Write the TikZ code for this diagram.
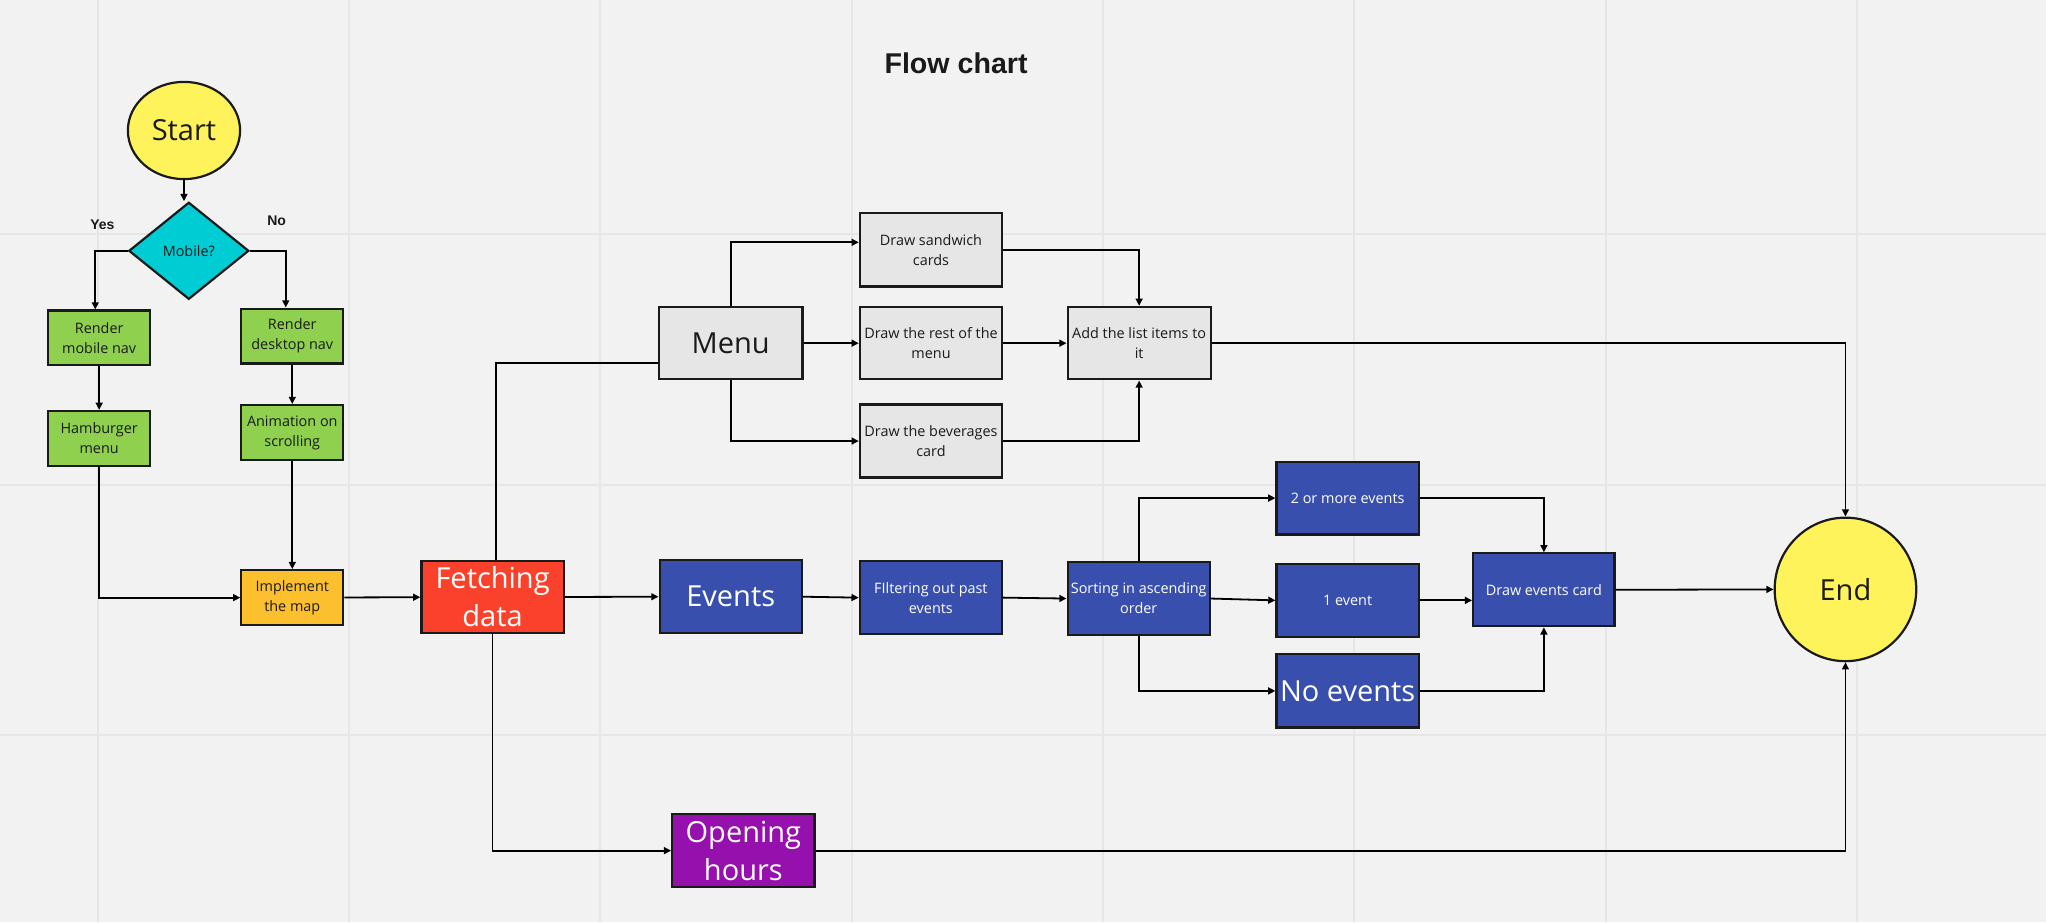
\documentclass[tikz,border=0pt]{standalone}
\usepackage{fontspec}
\setmainfont{Open Sans}
\newfontfamily\headfont{Liberation Sans}
\usetikzlibrary{arrows.meta,shapes.geometric,calc}
\definecolor{bg}{HTML}{F2F2F2}
\definecolor{gridc}{HTML}{E6E6E6}
\definecolor{yel}{HTML}{FFF35C}
\definecolor{cyn}{HTML}{00CDD3}
\definecolor{grn}{HTML}{8FD14F}
\definecolor{orng}{HTML}{FCC02E}
\definecolor{redc}{HTML}{F9412C}
\definecolor{blu}{HTML}{384FAD}
\definecolor{purp}{HTML}{9510AC}
\definecolor{gry}{HTML}{E6E6E6}
\definecolor{ink}{HTML}{1A1A1A}
\def\U{0.6524pt}
\tikzset{
  smalltxt/.style={font=\fontsize{7.2}{10}\selectfont},
  bigtxt/.style={font=\fontsize{14.5}{19}\selectfont},
  box/.style={rectangle, draw=ink, line width=1.1pt, inner sep=0pt, align=center,
    minimum width=109*\U, minimum height=56*\U, text=ink},
  gbox/.style={box, minimum width=78*\U, minimum height=42*\U, smalltxt},
  lbox/.style={box, fill=gry, smalltxt},
  bbox/.style={box, fill=blu, text=white, smalltxt},
  term/.style={ellipse, draw=ink, line width=1.1pt, fill=yel, inner sep=0pt, text=ink, bigtxt},
  conn/.style={draw=black, line width=0.9pt},
  arr/.style={conn, -{Triangle[length=3.6pt,width=3.4pt]}},
  lab/.style={font=\headfont\bfseries\fontsize{7}{8}\selectfont, text=ink, anchor=base},
}
\begin{document}
\begin{tikzpicture}[x=0.6524pt,y=-0.6524pt]
\fill[bg] (0,0) rectangle (1568,706.6);
\useasboundingbox (0,0) rectangle (1568,706.6);
\foreach \gx in {0,...,7} \draw[gridc,line width=1pt] ({74.9+192.6*\gx},0) -- ({74.9+192.6*\gx},706.6);
\foreach \gy in {179.4,371.4,563.5} \draw[gridc,line width=1pt] (0,\gy) -- (1568,\gy);

\node[font=\headfont\bfseries\fontsize{14.3}{16}\selectfont, text=ink, anchor=base] (title) at (732.7,56.7) {Flow chart};

\node[term, minimum width=86*\U, minimum height=74.5*\U] (start) at (141,100) {Start};
\node[diamond, draw=ink, line width=1.1pt, fill=cyn, inner sep=0pt, minimum width=92*\U, minimum height=74.4*\U, smalltxt, text=ink] (dia) at (144.7,192.2) {Mobile?};
\node[gbox, fill=grn] (rmob) at (76,259) {Render\\mobile nav};
\node[gbox, fill=grn] (rdesk) at (224,257.5) {Render\\desktop nav};
\node[gbox, fill=grn] (ham) at (76,336) {Hamburger\\menu};
\node[gbox, fill=grn] (anim) at (224,331.5) {Animation on\\scrolling};
\node[gbox, fill=orng] (impl) at (224,458) {Implement\\the map};
\node[box, fill=redc, text=white, bigtxt, minimum height=55*\U] (fetch) at (377.5,457.5) {Fetching\\data};

\node[box, fill=gry, bigtxt, minimum width=110*\U, minimum height=55.5*\U] (menu) at (560,263) {Menu};
\node[lbox] (sand) at (713.5,191.5) {Draw sandwich\\cards};
\node[lbox, minimum height=55.5*\U] (rest) at (713.5,263) {Draw the rest of the\\menu};
\node[lbox] (bev) at (713.5,338) {Draw the beverages\\card};
\node[lbox, minimum width=109.6*\U, minimum height=55.5*\U] (addl) at (873,263) {Add the list items to\\it};

\node[box, fill=blu, text=white, bigtxt, minimum height=55.7*\U] (events) at (560,457.3) {Events};
\node[bbox, minimum height=55.7*\U] (filt) at (713.4,458) {FIltering out past\\events};
\node[bbox] (sort) at (872.7,458.7) {Sorting in ascending\\order};
\node[bbox, minimum height=55.7*\U] (two) at (1032.8,381.7) {2 or more events};
\node[bbox] (one) at (1032.8,460.1) {1 event};
\node[box, fill=blu, text=white, bigtxt] (noev) at (1032.8,529.5) {No events};
\node[bbox, minimum width=108.3*\U, minimum height=55.8*\U] (card) at (1183.2,452) {Draw events card};
\node[box, fill=purp, text=white, bigtxt] (open) at (569.7,651.9) {Opening\\hours};
\node[term, minimum width=108.5*\U, minimum height=110*\U] (endn) at (1414.3,451.7) {End};

\node[lab] (yes) at (78.5,175.5) {Yes};
\node[lab] (no) at (212,173) {No};

\draw[arr] (start.south) -- (start.south |- dia.north);
\draw[arr] (dia.west) -| ($(rmob.north)+(-3,0)$);
\draw[arr] (dia.east) -| ($(rdesk.north)+(-5,0)$);
\draw[arr] (rmob) -- (ham);
\draw[arr] (rdesk) -- (anim);
\draw[arr] (ham.south) |- (impl.west);
\draw[arr] (anim) -- (impl);
\draw[arr] (impl) -- (fetch);
\draw[conn] ($(fetch.north)+(2.5,0)$) |- ($(menu.west)+(0,15)$);
\draw[arr] (fetch.east) -- (events.west);
\draw[arr] (fetch.south) |- (open.west);
\draw[arr] (menu.north) |- ($(sand.west)+(0,-5.8)$);
\draw[arr] (menu.east) -- (rest.west);
\draw[arr] (menu.south) |- (bev.west);
\draw[arr] (sand.east) -| (addl.north);
\draw[arr] (rest) -- (addl);
\draw[arr] (bev.east) -| (addl.south);
\draw[arr] (addl.east) -| (endn.north);
\draw[arr] (events.east) -- (filt.west);
\draw[arr] (filt.east) -- (sort.west);
\draw[arr] (sort.east) -- (one.west);
\draw[arr] (sort.north) |- (two.west);
\draw[arr] (sort.south) |- (noev.west);
\draw[arr] (two.east) -| (card.north);
\draw[arr] (one.east) -- (one.east -| card.west);
\draw[arr] (noev.east) -| (card.south);
\draw[arr] (card.east) -- (endn.west);
\draw[arr] (open.east) -| (endn.south);
\end{tikzpicture}
\end{document}
